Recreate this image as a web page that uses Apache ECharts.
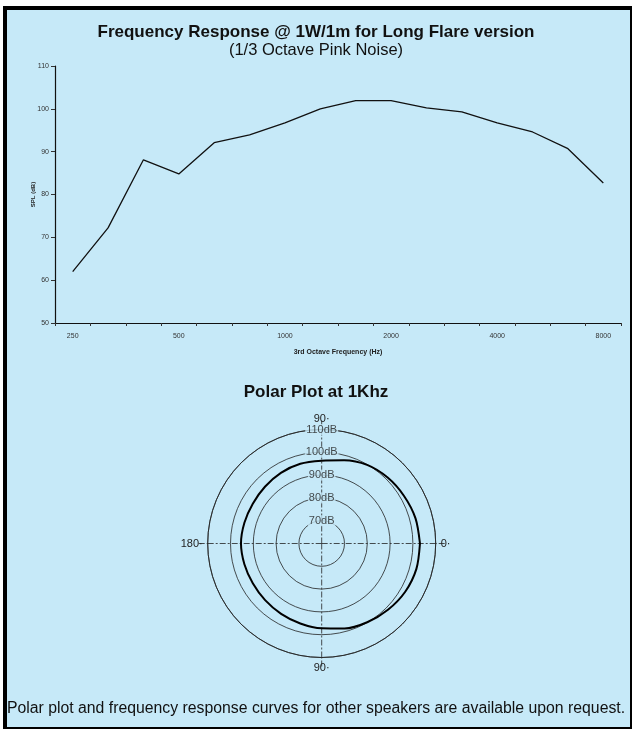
<!DOCTYPE html>
<html>
<head>
<meta charset="utf-8">
<script src="https://cdn.jsdelivr.net/npm/echarts@6/dist/echarts.min.js"></script>
<style>
html,body{margin:0;padding:0;background:#fff;overflow:hidden;}
#frame{position:absolute;left:3px;top:6px;width:631px;height:725px;box-sizing:border-box;border:4px solid #000;background:#c6e9f8;}
#chart{position:absolute;left:0;top:0;width:632px;height:729px;}
</style>
</head>
<body>
<div id="frame"></div>
<div id="chart"></div>
<script>
// ---- data ----
const categories = ['250','315','400','500','630','800','1000','1250','1600','2000','2500','3150','4000','5000','6300','8000'];
const splValues = [62, 72.2, 88.1, 84.8, 92.1, 93.9, 96.7, 100, 101.9, 101.9, 100.2, 99.3, 96.7, 94.6, 90.7, 82.7];
const yTicks = [50, 60, 70, 80, 90, 100, 110];
const polarAngles = [0, 15, 30, 45, 60, 75, 90, 105, 120, 135, 150, 165, 180, 195, 210, 225, 240, 255, 270, 285, 300, 315, 330, 345];
const polarDb =     [103.1, 102.6, 101.7, 100.9, 99.8, 97.8, 96.3, 96.2, 95.8, 95.2, 94.9, 95.1, 95.4, 95.1, 94.9, 95.1, 95.6, 96.3, 97.2, 98.6, 99.9, 101.1, 102.3, 103.0];
const ringLevels = [70, 80, 90, 100, 110];
const angleTickLabels = {0: '0·', 90: '90·', 180: '180·', 270: '90·'};

const titleMain = 'Frequency Response @ 1W/1m for Long Flare version';
const titleSub = '(1/3 Octave Pink Noise)';
const titlePolar = 'Polar Plot at 1Khz';
const footnote = 'Polar plot and frequency response curves for other speakers are available upon request.';

const FONT = 'Liberation Sans';
const BG = '#c6e9f8';

const polarData = polarAngles.map((a, i) => [polarDb[i], a]);
polarData.push([polarDb[0], 360]);

const chart = echarts.init(document.getElementById('chart'), null, {renderer: 'canvas'});
chart.setOption({
  animation: false,
  backgroundColor: 'transparent',
  textStyle: {fontFamily: FONT},
  title: [
    {text: titleMain, left: 'center', top: 19, textStyle: {fontSize: 17, fontWeight: 'bold', color: '#111', fontFamily: FONT},
     subtext: titleSub, itemGap: 1, subtextStyle: {fontSize: 16.5, color: '#111', fontFamily: FONT}},
    {text: titlePolar, left: 'center', top: 379, textStyle: {fontSize: 17, fontWeight: 'bold', color: '#111', fontFamily: FONT}},
    {text: footnote, left: 'center', top: 696, textStyle: {fontSize: 15.8, fontWeight: 'normal', color: '#111', fontFamily: FONT}}
  ],
  grid: {left: 55, right: 11, top: 66, bottom: 406, containLabel: false},
  xAxis: {
    type: 'category', data: categories, boundaryGap: true,
    name: '3rd Octave Frequency (Hz)', nameLocation: 'middle', nameGap: 26,
    nameTextStyle: {fontSize: 7, fontWeight: 'bold', color: '#222'},
    axisLine: {lineStyle: {color: '#111', width: 1.2}},
    axisTick: {show: true, interval: 0, length: 3, lineStyle: {color: '#333'}},
    axisLabel: {interval: 2, fontSize: 7, color: '#333', margin: 10}
  },
  yAxis: {
    type: 'value', min: yTicks[0], max: yTicks[yTicks.length - 1], interval: 10,
    name: 'SPL (dB)', nameLocation: 'middle', nameGap: 22, nameRotate: 90,
    nameMoveOverlap: false,
    nameTextStyle: {fontSize: 6, fontWeight: 'bold', color: '#222', verticalAlign: 'middle'},
    axisLine: {show: true, lineStyle: {color: '#111', width: 1.2}},
    axisTick: {show: true, length: 4, lineStyle: {color: '#333'}},
    axisLabel: {fontSize: 7, color: '#333', margin: 6},
    splitLine: {show: false}
  },
  polar: {center: [321.7, 543.5], radius: 114},
  angleAxis: {
    type: 'value', min: 0, max: 360, interval: 90, startAngle: 0, clockwise: false,
    axisLine: {show: true, lineStyle: {color: '#222', width: 0.8}},
    axisTick: {show: true, length: 9, lineStyle: {color: '#222', width: 0.8, type: [6, 2, 2, 2]}},
    axisLabel: {show: true, margin: 5, fontSize: 11, color: '#222',
      formatter: v => angleTickLabels[v] || ''},
    splitLine: {show: true, lineStyle: {color: '#222', width: 0.8, type: [6, 2, 2, 2]}}
  },
  radiusAxis: {
    type: 'value', min: 60, max: 110, interval: 10,
    axisLine: {show: false}, axisTick: {show: false}, axisLabel: {show: false},
    splitLine: {show: true, lineStyle: {color: '#222', width: 0.8}}
  },
  series: [
    {
      type: 'line', data: splValues, xAxisIndex: 0, yAxisIndex: 0,
      showSymbol: false, symbol: 'none',
      lineStyle: {color: '#111', width: 1.3}
    },
    {
      type: 'line', coordinateSystem: 'polar', data: polarData,
      smooth: 0.3, showSymbol: false, symbol: 'none',
      lineStyle: {color: '#000', width: 2}, z: 3
    },
    {
      type: 'scatter', coordinateSystem: 'polar', symbolSize: 0,
      data: ringLevels.map(v => [v, 90]), z: 4,
      label: {show: true, position: 'inside', fontSize: 11, color: '#222',
        backgroundColor: BG, padding: [0, 1],
        formatter: p => p.value[0] + 'dB'}
    }
  ]
});
</script>
</body>
</html>
